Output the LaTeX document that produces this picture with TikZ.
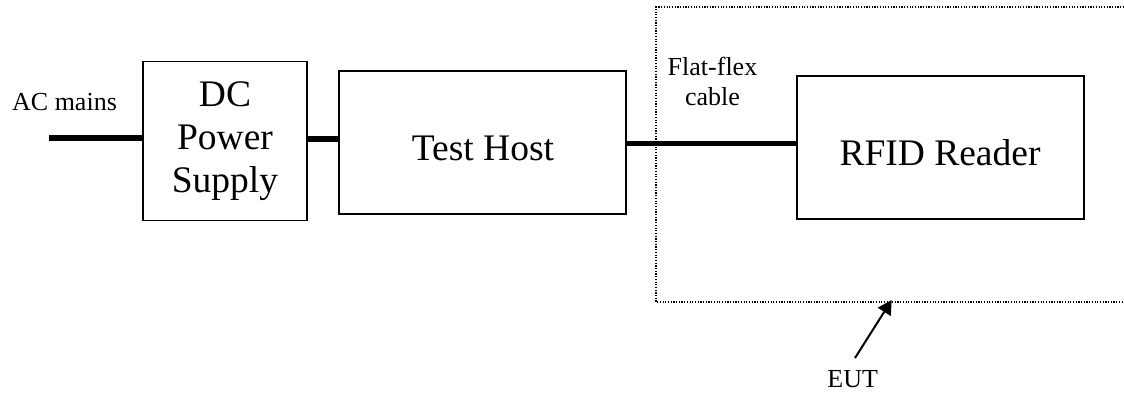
\documentclass[tikz,border=0pt]{standalone}
\usepackage{fontspec}
\setmainfont{Liberation Serif}
\usetikzlibrary{arrows.meta}
\tikzset{
  blockbox/.style={draw=black, line width=1.6pt, fill=white, inner sep=0pt},
  bigtext/.style={font=\fontsize{37.5}{43}\selectfont, align=center, inner sep=0pt},
  smalltext/.style={font=\fontsize{26}{30}\selectfont, align=center, inner sep=0pt},
  cable/.style={line width=5.5pt},
  eutbox/.style={line width=1.5pt, dash pattern=on 1.2pt off 1.5pt},
  pointer/.style={line width=2pt, -{Triangle[length=14pt,width=15pt]}}
}
\begin{document}
\begin{tikzpicture}[x=1pt,y=-1pt]
\useasboundingbox (0,0) rectangle (1124,392);
% EUT dotted boundary (open on the right)
\draw[eutbox] (1124,7) -- (656,7) -- (656,302) -- (1124,302);
% blocks
\node[blockbox, minimum width=164pt, minimum height=159pt, bigtext] (dc) at (225,141) {DC\\Power\\Supply};
\node[blockbox, minimum width=287pt, minimum height=143pt] (th) at (482.5,142.5) {};
\node[blockbox, minimum width=287pt, minimum height=143pt] (rfid) at (940.5,147.5) {};
\node[bigtext, anchor=base] (thlabel) at (483,160) {Test Host};
\node[bigtext, anchor=base] (rfidlabel) at (940,165) {RFID Reader};
% labels
\node[smalltext, anchor=base] (ac) at (64.5,110) {AC mains};
\node[smalltext] (flex) at (712.5,81.2) {Flat-flex\\cable};
\node[smalltext, anchor=base] (eut) at (852.7,387) {EUT};
% connectors
\coordinate (acstart) at (49,138);
\coordinate (dcth) at (320,139);
\coordinate (cab) at (700,143.5);
\draw[cable] (acstart) -- (acstart -| dc.west);
\draw[cable] (dc.east |- dcth) -- (th.west |- dcth);
\draw[cable] (th.east |- cab) -- (rfid.west |- cab);
% EUT pointer
\coordinate (eutfrom) at (855,358);
\coordinate (eutto) at (891.7,300);
\draw[pointer] (eutfrom) -- (eutto);
\end{tikzpicture}
\end{document}
